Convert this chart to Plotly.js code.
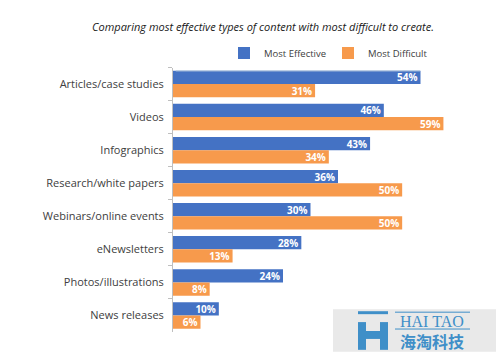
<!DOCTYPE html>
<html>
<head>
<meta charset="utf-8">
<script src="https://cdn.plot.ly/plotly-3.0.1.min.js"></script>
<style>html,body{margin:0;padding:0;background:#fff;}#chart{width:500px;height:355px;}</style>
</head>
<body>
<div id="chart"></div>
<script>
const categories = ["Articles/case studies","Videos","Infographics","Research/white papers","Webinars/online events","eNewsletters","Photos/illustrations","News releases"];
const mostEffective = [54,46,43,36,30,28,24,10];
const mostDifficult = [31,59,34,50,50,13,8,6];
const seriesNames = ["Most Effective","Most Difficult"];
const titleText = "Comparing most effective types of content with most difficult to create.";

const FONT = "Open Sans, Noto Sans, sans-serif";
const traces = [
  {type:'bar', orientation:'h', name:seriesNames[0], y:categories, x:mostEffective, legend:'legend',
   marker:{color:'#4472C4'}, texttemplate:'%{x}%', textposition:'inside', insidetextanchor:'end', constraintext:'none',
   textfont:{color:'#ffffff', size:10, family:FONT, weight:'bold'}, hoverinfo:'x+y'},
  {type:'bar', orientation:'h', name:seriesNames[1], y:categories, x:mostDifficult, legend:'legend2',
   marker:{color:'#F79A4C'}, texttemplate:'%{x}%', textposition:'inside', insidetextanchor:'end', constraintext:'none',
   textfont:{color:'#ffffff', size:10, family:FONT, weight:'bold'}, hoverinfo:'x+y'}
];
const W = 275, H = 267, L = 173, T = 65;
const px = v => (v - L) / W;
const py = v => (T + H - v) / H;
const legendBase = {orientation:'h', xref:'container', yref:'container', y:1-53/355, xanchor:'left', yanchor:'middle', font:{size:9.5, color:'#404040', family:FONT}, itemwidth:30, bgcolor:'rgba(0,0,0,0)'};
const layout = {
  width:500, height:355,
  margin:{l:L, r:500-L-W, t:T, b:355-T-H, pad:0},
  paper_bgcolor:'#fff', plot_bgcolor:'#fff',
  font:{family:FONT, color:'#404040'},
  title:{text:'<i>'+titleText+'</i>', font:{size:11, color:'#1a1a1a', family:FONT}, x:0.526, xanchor:'center', y:1-27/355, yref:'container', yanchor:'middle'},
  barmode:'group', bargap:0.2, bargroupgap:0,
  showlegend:true,
  legend:Object.assign({}, legendBase, {x:224/500}),
  legend2:Object.assign({}, legendBase, {x:328/500}),
  xaxis:{range:[0,60], visible:false, fixedrange:true},
  yaxis:{type:'category', autorange:'reversed', showline:true, linecolor:'#BFBFBF', linewidth:1,
    ticks:'outside', ticklen:4, tickcolor:'#BFBFBF', tickson:'boundaries', ticklabelstandoff:6,
    tickfont:{size:11, color:'#404040', family:FONT}, showgrid:false, zeroline:false, fixedrange:true},
  shapes:[
    {type:'line', xref:'paper', yref:'paper', x0:0.01, x1:px(420), y0:py(68.5), y1:py(68.5), line:{color:'#A9C0DA', width:1}},
    {type:'rect', xref:'paper', yref:'paper', x0:px(333), x1:px(496), y0:py(309), y1:py(352), fillcolor:'#E9E9E9', line:{width:0}, layer:'above'},
    {type:'rect', xref:'paper', yref:'paper', x0:px(358), x1:px(388), y0:py(311), y1:py(314), fillcolor:'#3F8FC8', line:{width:0}, layer:'above'},
    {type:'rect', xref:'paper', yref:'paper', x0:px(358), x1:px(366), y0:py(322), y1:py(350), fillcolor:'#3F8FC8', line:{width:0}, layer:'above'},
    {type:'rect', xref:'paper', yref:'paper', x0:px(380), x1:px(388), y0:py(322), y1:py(350), fillcolor:'#3F8FC8', line:{width:0}, layer:'above'},
    {type:'rect', xref:'paper', yref:'paper', x0:px(366), x1:px(380), y0:py(331), y1:py(339), fillcolor:'#3F8FC8', line:{width:0}, layer:'above'},
    {type:'line', xref:'paper', yref:'paper', x0:px(395), x1:px(470), y0:py(312), y1:py(312), line:{color:'#3F8FC8', width:1}, layer:'above'},
    {type:'line', xref:'paper', yref:'paper', x0:px(395), x1:px(470), y0:py(329), y1:py(329), line:{color:'#3F8FC8', width:1}, layer:'above'}
  ],
  annotations:[
    {xref:'paper', yref:'paper', x:px(432), y:py(321), text:'HAI TAO', showarrow:false, font:{family:'Liberation Serif, DejaVu Serif, serif', size:16, color:'#3F8FC8'}, xanchor:'center', yanchor:'middle'},
    {xref:'paper', yref:'paper', x:px(432), y:py(341), text:'<b>海淘科技</b>', showarrow:false, font:{family:'Noto Sans CJK SC, sans-serif', size:16, color:'#3F8FC8'}, xanchor:'center', yanchor:'middle'}
  ]
};
Plotly.newPlot('chart', traces, layout, {displayModeBar:false, staticPlot:true});
</script>
</body>
</html>
